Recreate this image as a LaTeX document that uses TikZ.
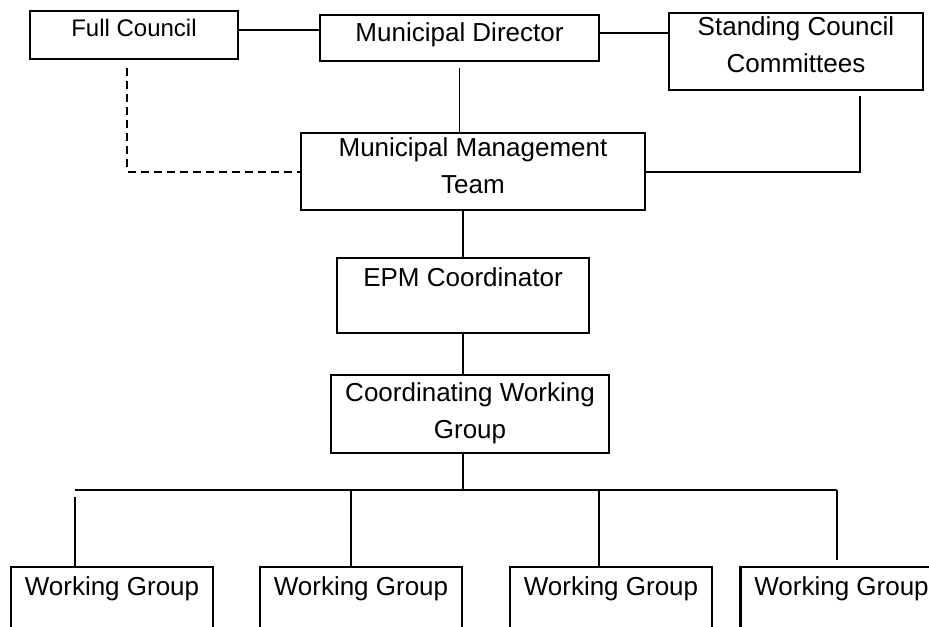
\documentclass[tikz,border=0pt]{standalone}
\usepackage{fontspec}
\setmainfont{Liberation Sans}

\begin{document}
\begin{tikzpicture}[x=0.5pt, y=-0.5pt,
    box/.style={draw, line width=1.1pt, inner sep=0pt, anchor=north, align=center,
      font=\fontsize{13}{18.5}\selectfont},
    wire/.style={line width=0.9pt}]
  \useasboundingbox (0,0) rectangle (929,626);
  \clip (0,0) rectangle (929,626);
  % top row
  \node[box, minimum width=104pt, text height=12.5pt, text depth=11.5pt,
    font=\fontsize{12}{14}\selectfont] (council) at (134,10) {Full Council};
  \node[box, minimum width=139.5pt, text height=13pt, text depth=10pt] (director) at (459.5,14) {Municipal Director};
  \node[box, minimum width=127pt, text height=29.5pt, text depth=9pt] (committees) at (796,12) {Standing Council\\Committees};
  % middle column
  \node[box, minimum width=172pt, text height=30pt, text depth=8.5pt] (mgmt) at (473,132) {Municipal Management\\Team};
  \node[box, minimum width=126pt, text height=14.3pt, text depth=23.2pt] (epm) at (463,257) {EPM Coordinator};
  \node[box, minimum width=139pt, text height=31.5pt, text depth=7.5pt] (cwg) at (470,374) {Coordinating Working\\Group};
  \foreach \n/\x in {1/112, 2/361, 3/611, 4/841.5}
    \node[box, minimum width=101pt, text height=14pt, text depth=20pt] (wg\n) at (\x,566) {Working Group};
  % connectors
  \draw[wire] ([yshift=2.5pt]council.east) -- ([yshift=2.5pt]council.east -| director.west);
  \draw[wire] ([yshift=2.5pt]director.east) -- ([yshift=2.5pt]director.east -| committees.west);
  \draw[wire, shorten <=3pt] (director.south) -- (director.south |- mgmt.north);
  \draw[wire, shorten <=2.5pt] ([xshift=32pt]committees.south) |- (mgmt.east);
  \draw[wire, dash pattern=on 4pt off 2.5pt, shorten <=4pt] ([xshift=-3.5pt]council.south) |- (mgmt.west);
  \draw[wire] (epm.north) -- (epm.north |- mgmt.south);
  \draw[wire] (epm.south) -- (epm.south |- cwg.north);
  \coordinate (bus) at (463,490);
  \draw[wire] (epm.south |- cwg.south) -- (bus);
  \coordinate (busL) at (75,490);
  \coordinate (busR) at (837,490);
  \draw[wire] (busL) -- (busR);
  \foreach \n/\x/\s/\e in {1/75/3.5/0, 2/351/0/0, 3/599/0/0, 4/837/0/3}{
    \coordinate (drop\n) at (\x,490);
    \draw[wire, shorten <=\s pt, shorten >=\e pt] (drop\n) -- (drop\n |- wg\n.north);
  }
\end{tikzpicture}
\end{document}
